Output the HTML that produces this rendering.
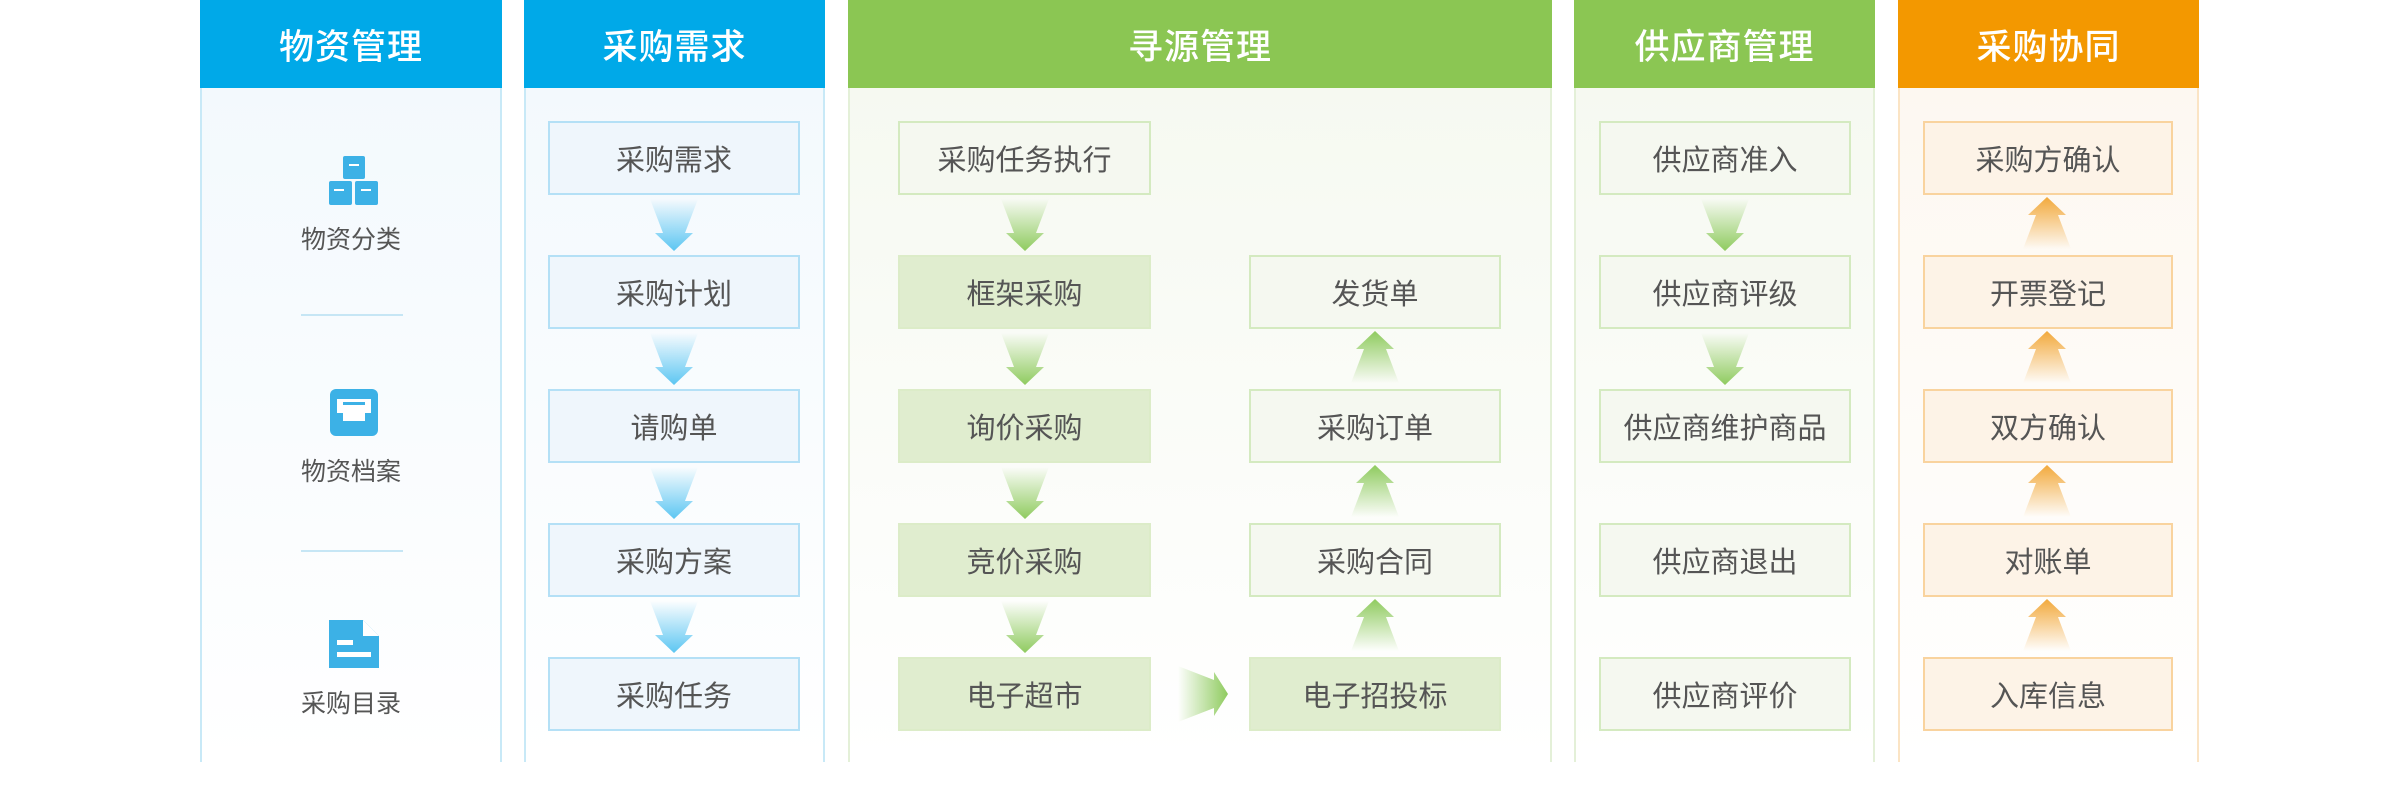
<!DOCTYPE html>
<html><head><meta charset="utf-8">
<style>
*{margin:0;padding:0;box-sizing:border-box}
body{width:2400px;height:804px;background:#fff;position:relative;overflow:hidden;font-family:"Liberation Sans","Noto Sans CJK SC",sans-serif}
.col{position:absolute;top:0;height:762px}
.hd{position:absolute;left:0;top:0;width:100%;height:88px;color:#fff;font-size:35px;font-weight:500;display:flex;align-items:center;justify-content:center;letter-spacing:1px}
.bd{position:absolute;left:0;top:88px;width:100%;bottom:0;border:2px solid;border-top:none;border-bottom:none}
.b{position:absolute;height:74px;display:flex;align-items:center;justify-content:center;font-size:29px;color:#555;border:2px solid}
.bl .b{background:#eff6fc;border-color:#b4e0f6}
.gl{background:#f5f8f0;border-color:#d4eac0 !important}
.gd{background:#e0edcf;border-color:#dcecc8 !important}
.or .b{background:#fdf3e7;border-color:#f9d39e}
.lab{position:absolute;left:200px;width:302px;text-align:center;font-size:25px;color:#555}
.dv{position:absolute;left:301px;width:102px;height:2px;background:#c6e6f5}
svg.a{position:absolute}
</style></head><body>
<svg width="0" height="0" style="position:absolute">
<defs>
<linearGradient id="gb" x1="0" y1="0" x2="0" y2="1"><stop offset="0" stop-color="#5cc6f2" stop-opacity="0"/><stop offset="1" stop-color="#5cc6f2"/></linearGradient>
<linearGradient id="gg" x1="0" y1="0" x2="0" y2="1"><stop offset="0" stop-color="#8fcb5f" stop-opacity="0"/><stop offset="1" stop-color="#8fcb5f"/></linearGradient>
<linearGradient id="go" x1="0" y1="1" x2="0" y2="0"><stop offset="0" stop-color="#f2a93c" stop-opacity="0"/><stop offset="1" stop-color="#f2a93c"/></linearGradient>
<linearGradient id="ggu" x1="0" y1="1" x2="0" y2="0"><stop offset="0" stop-color="#8fcb5f" stop-opacity="0"/><stop offset="1" stop-color="#8fcb5f"/></linearGradient>
<linearGradient id="ggr" x1="0" y1="0" x2="1" y2="0"><stop offset="0" stop-color="#8fcb5f" stop-opacity="0"/><stop offset="1" stop-color="#8fcb5f"/></linearGradient>
</defs></svg>

<!-- col1 -->
<div class="col" style="left:200px;width:302px">
<div class="hd" style="background:#00a9e8">物资管理</div>
<div class="bd" style="border-color:#c8e9f7;background:linear-gradient(#f3f9fd,#fff)"></div>
</div>
<svg class="a" style="left:329px;top:156px" width="50" height="50"><rect x="14" y="0" width="22" height="23" rx="2" fill="#3cb1e6"/><rect x="0" y="25" width="23" height="24" rx="2" fill="#3cb1e6"/><rect x="26" y="25" width="23" height="24" rx="2" fill="#3cb1e6"/><rect x="20" y="8" width="10" height="2" fill="#fff"/><rect x="5" y="33" width="10" height="2" fill="#fff"/><rect x="32" y="33" width="10" height="2" fill="#fff"/></svg>
<div class="lab" style="top:220px">物资分类</div>
<div class="dv" style="top:314px"></div>
<svg class="a" style="left:330px;top:389px" width="48" height="48"><rect x="0" y="0" width="48" height="47" rx="6" fill="#3cb1e6"/><rect x="7" y="10" width="34" height="14" fill="#fff"/><rect x="13" y="24" width="22" height="8" fill="#fff"/><rect x="13" y="13" width="22" height="3" fill="#3cb1e6"/></svg>
<div class="lab" style="top:452px">物资档案</div>
<div class="dv" style="top:550px"></div>
<svg class="a" style="left:329px;top:620px" width="50" height="50"><path d="M0 0 H34 L50 16 V48 H0 Z" fill="#3cb1e6"/><path d="M34 0 L50 16 H34Z" fill="#fff"/><rect x="8" y="20" width="16" height="5" fill="#fff"/><rect x="8" y="32" width="34" height="5" fill="#fff"/></svg>
<div class="lab" style="top:684px">采购目录</div>

<!-- col2 -->
<div class="col bl" style="left:524px;width:301px">
<div class="hd" style="background:#00a9e8">采购需求</div>
<div class="bd" style="border-color:#c8e9f7;background:linear-gradient(#f3f9fd,#fff)"></div>
<div class="b" style="left:24px;width:252px;top:121px">采购需求</div>
<div class="b" style="left:24px;width:252px;top:255px">采购计划</div>
<div class="b" style="left:24px;width:252px;top:389px">请购单</div>
<div class="b" style="left:24px;width:252px;top:523px">采购方案</div>
<div class="b" style="left:24px;width:252px;top:657px">采购任务</div>
</div>

<!-- col3 -->
<div class="col" style="left:848px;width:704px">
<div class="hd" style="background:#8bc653">寻源管理</div>
<div class="bd" style="border-color:#e4f0d8;background:linear-gradient(#f6f9f1,#fff)"></div>
<div class="b gl" style="left:50px;width:253px;top:121px">采购任务执行</div>
<div class="b gd" style="left:50px;width:253px;top:255px">框架采购</div>
<div class="b gd" style="left:50px;width:253px;top:389px">询价采购</div>
<div class="b gd" style="left:50px;width:253px;top:523px">竞价采购</div>
<div class="b gd" style="left:50px;width:253px;top:657px">电子超市</div>
<div class="b gl" style="left:401px;width:252px;top:255px">发货单</div>
<div class="b gl" style="left:401px;width:252px;top:389px">采购订单</div>
<div class="b gl" style="left:401px;width:252px;top:523px">采购合同</div>
<div class="b gd" style="left:401px;width:252px;top:657px">电子招投标</div>
</div>

<!-- col4 -->
<div class="col" style="left:1574px;width:301px">
<div class="hd" style="background:#8bc653">供应商管理</div>
<div class="bd" style="border-color:#e4f0d8;background:linear-gradient(#f6f9f1,#fff)"></div>
<div class="b gl" style="left:25px;width:252px;top:121px">供应商准入</div>
<div class="b gl" style="left:25px;width:252px;top:255px">供应商评级</div>
<div class="b gl" style="left:25px;width:252px;top:389px">供应商维护商品</div>
<div class="b gl" style="left:25px;width:252px;top:523px">供应商退出</div>
<div class="b gl" style="left:25px;width:252px;top:657px">供应商评价</div>
</div>

<!-- col5 -->
<div class="col or" style="left:1898px;width:301px">
<div class="hd" style="background:#f39800">采购协同</div>
<div class="bd" style="border-color:#fbe4c4;background:linear-gradient(#fdf8f1,#fff)"></div>
<div class="b" style="left:25px;width:250px;top:121px">采购方确认</div>
<div class="b" style="left:25px;width:250px;top:255px">开票登记</div>
<div class="b" style="left:25px;width:250px;top:389px">双方确认</div>
<div class="b" style="left:25px;width:250px;top:523px">对账单</div>
<div class="b" style="left:25px;width:250px;top:657px">入库信息</div>
</div>

<!-- arrows -->
<svg class="a" style="left:0;top:0" width="2400" height="804">
<defs>
<path id="dn" d="M0 0 H48 L35 34 H43 L24 52 L5 34 H13 Z"/>
<path id="up" d="M24 0 L43 18 H35 L48 52 H0 L13 18 H5 Z"/>
</defs>
<g fill="url(#gb)">
<use href="#dn" x="650" y="199"/><use href="#dn" x="650" y="333"/><use href="#dn" x="650" y="467"/><use href="#dn" x="650" y="601"/>
</g>
<g fill="url(#gg)">
<use href="#dn" x="1001" y="199"/><use href="#dn" x="1001" y="333"/><use href="#dn" x="1001" y="467"/><use href="#dn" x="1001" y="601"/>
<use href="#dn" x="1701" y="199"/><use href="#dn" x="1701" y="333"/>
</g>
<g fill="url(#ggu)">
<use href="#up" x="1351" y="331"/><use href="#up" x="1351" y="465"/><use href="#up" x="1351" y="599"/>
</g>
<g fill="url(#go)">
<use href="#up" x="2023" y="197"/><use href="#up" x="2023" y="331"/><use href="#up" x="2023" y="465"/><use href="#up" x="2023" y="599"/>
</g>
<path d="M1178 666 L1214 680 V672 L1228 694 L1214 716 V708 L1178 722 Z" fill="url(#ggr)"/>
</svg>
</body></html>
